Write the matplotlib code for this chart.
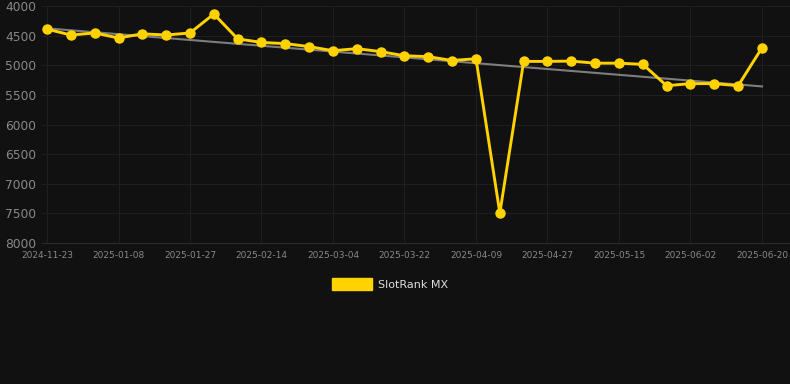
import numpy as np
import matplotlib
matplotlib.use("Agg")
import matplotlib.pyplot as plt
from matplotlib.patches import Patch

# rank values, one per weekly snapshot (lower is better, axis inverted)
ranks = [4390, 4490, 4455, 4540, 4470, 4490, 4455, 4135, 4555, 4615,
         4635, 4685, 4755, 4720, 4770, 4840, 4855, 4920, 4890, 7495,
         4935, 4935, 4930, 4965, 4965, 4985, 5345, 5310, 5310, 5345,
         4705]
tick_labels = ['2024-11-23', '2025-01-08', '2025-01-27', '2025-02-14',
               '2025-03-04', '2025-03-22', '2025-04-09', '2025-04-27',
               '2025-05-15', '2025-06-02', '2025-06-20']
series_name = 'SlotRank MX'

bg = '#111111'
gold = '#ffd200'

fig = plt.figure(figsize=(7.9, 3.84), dpi=100, facecolor=bg)
ax = fig.add_axes([42 / 790, 141 / 384, 748 / 790, 237 / 384], facecolor=bg)

x = np.arange(len(ranks))

# linear trend
k, b = np.polyfit(x, ranks, 1)
ax.plot(x, k * x + b, color='#8a8a8a', lw=1.5, zorder=2, alpha=0.9)

ax.plot(x, ranks, color=gold, lw=2.1, marker='o', ms=6.5, zorder=3)

px = 23.83  # pixels per step
ax.set_xlim(-5 / px, 30 + 28 / px)
ax.set_ylim(8000, 4000)
ax.set_yticks(np.arange(4000, 8001, 500))
ax.set_xticks(x[::3])
ax.set_xticklabels(tick_labels)

ax.grid(True, color='#1f1f1f', lw=0.8)
ax.set_axisbelow(True)
for s in ['top', 'right', 'left']:
    ax.spines[s].set_visible(False)
ax.spines['bottom'].set_color('#2a2a2a')
ax.tick_params(length=0, colors='#888888')
ax.tick_params(axis='y', labelsize=8.8, pad=4)
ax.tick_params(axis='x', labelsize=6.5, pad=6)

leg = fig.legend(handles=[Patch(color=gold, label=series_name)],
                 loc='center', bbox_to_anchor=(390 / 790, 1 - 284 / 384),
                 frameon=False, fontsize=8, handlelength=3.6, handleheight=1.2,
                 handletextpad=0.5)
for t in leg.get_texts():
    t.set_color('#dddddd')

fig.savefig('out.png', dpi=100, facecolor=bg)
